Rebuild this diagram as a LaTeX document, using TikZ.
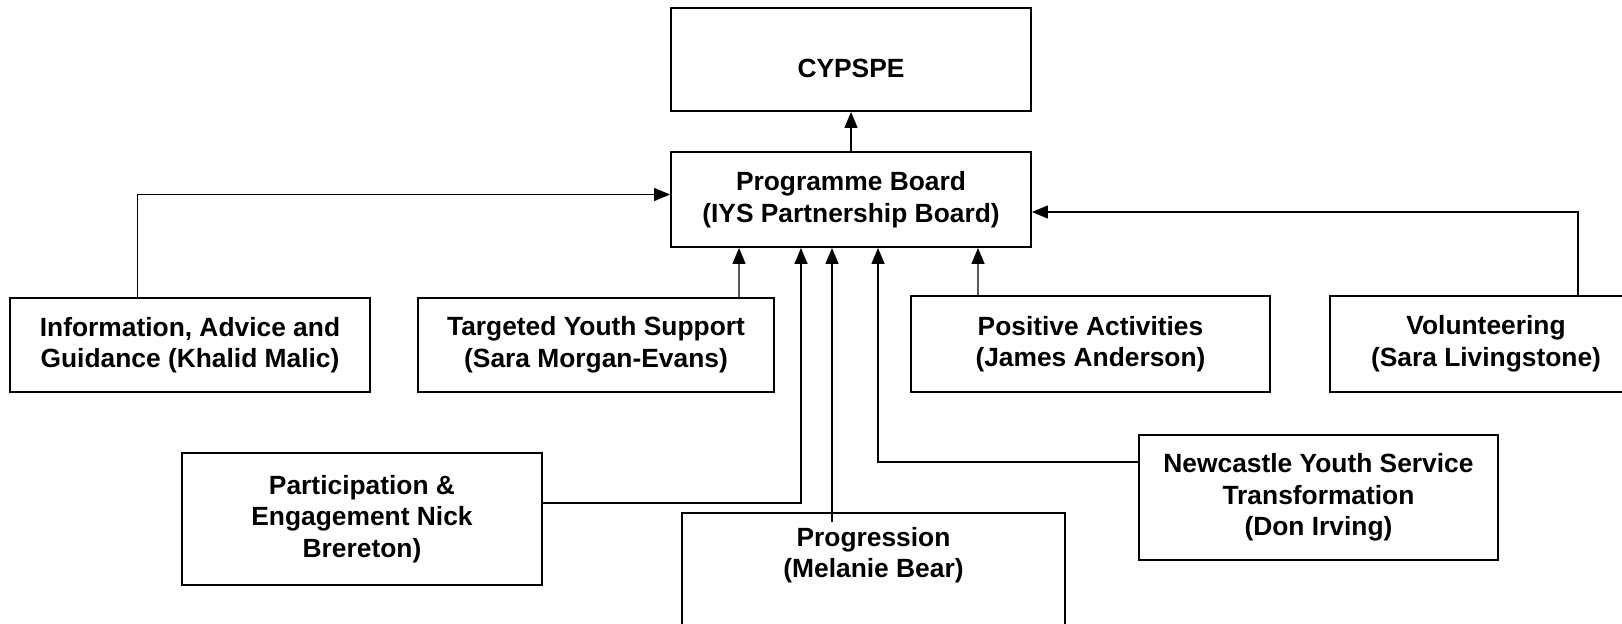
\documentclass[tikz,border=0pt]{standalone}
\usepackage{fontspec}
\setmainfont{Liberation Sans}
\usetikzlibrary{arrows.meta}

\begin{document}
\begin{tikzpicture}[
    boxtext/.style={align=center, font=\bfseries\fontsize{15}{18}\selectfont},
    box/.style={draw, line width=1.1pt, minimum width=7.2cm, boxtext},
    conn/.style={line width=0.8pt, -{Triangle[length=0.32cm,width=0.26cm]}}
]
        \clip (0,0) rectangle (32.44,12.46);

        \node[box, minimum height=2.06cm, text height=0.72cm, text depth=0cm] (cypspe) at (17.02, 11.27) {CYPSPE};
        \node[box, minimum height=1.9cm] (board) at (17.02, 8.47) {Programme Board\\(IYS Partnership Board)};

        \node[box, minimum height=1.88cm] (info) at (3.8, 5.56) {Information, Advice and\\Guidance (Khalid Malic)};
        \node[box, minimum height=1.88cm, minimum width=7.12cm] (targ) at (11.92, 5.56) {Targeted Youth Support\\(Sara Morgan-Evans)};
        \node[box, minimum height=1.92cm, minimum width=7.18cm] (pos) at (21.81, 5.58) {Positive Activities\\(James Anderson)};
        \node[box, minimum height=1.92cm, minimum width=6.24cm] (vol) at (29.72, 5.58) {Volunteering\\(Sara Livingstone)};

        \node[box, minimum height=2.64cm] (part) at (7.24, 2.08) {Participation \&\\Engagement Nick\\Brereton)};
        \node[box, minimum height=3cm, minimum width=7.67cm, anchor=north,
              label={[boxtext, anchor=north, yshift=-0.18cm]north:{Progression\\(Melanie Bear)}}] (prog) at (17.47, 2.22) {};
        \node[box, minimum height=2.5cm, minimum width=7.18cm] (newc) at (26.37, 2.51) {Newcastle Youth Service\\Transformation\\(Don Irving)};

        \draw[conn] (board.north) -- (cypspe.south);
        \draw[conn] ([xshift=-1.05cm]info.north) |- ([yshift=0.1cm]board.west);
        \draw[conn] ([xshift=1.84cm]vol.north) |- ([yshift=-0.25cm]board.east);
        \draw[conn] ([xshift=2.86cm]targ.north) -- ([xshift=-2.24cm]board.south);
        \draw[conn] ([xshift=-2.25cm]pos.north) -- ([xshift=2.54cm]board.south);
        \draw[conn] ([yshift=0.32cm]part.east) -| ([xshift=-1.0cm]board.south);
        \draw[conn] ([xshift=-0.83cm,yshift=-0.2cm]prog.north) -- ([xshift=-0.38cm]board.south);
        \draw[conn] ([yshift=0.71cm]newc.west) -| ([xshift=0.54cm]board.south);

    \end{tikzpicture}
\end{document}
